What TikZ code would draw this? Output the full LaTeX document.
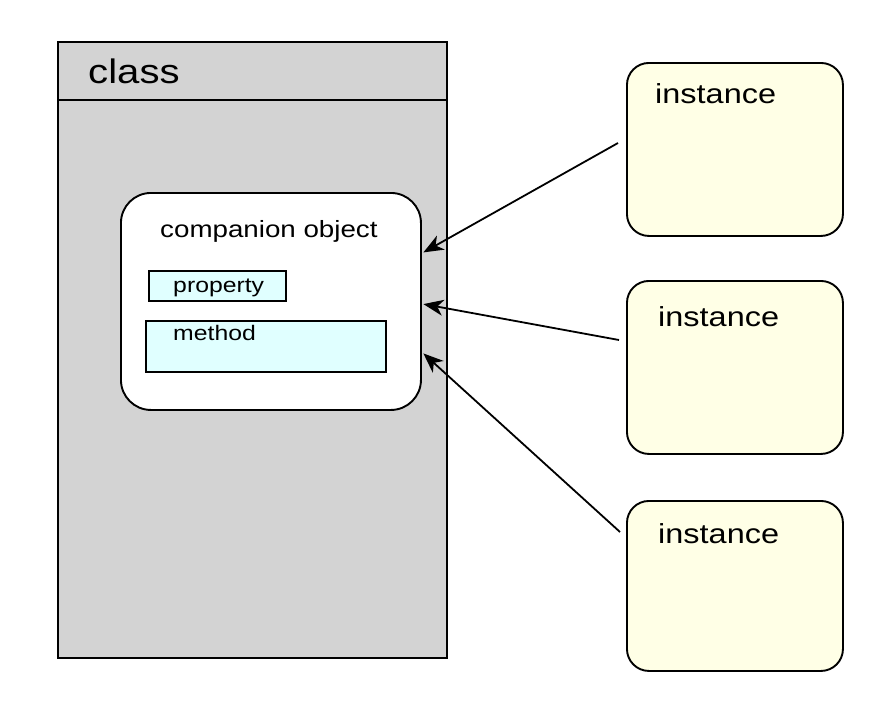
\documentclass[tikz,border=0pt]{standalone}
\usepackage{fontspec}
\setmainfont{Liberation Sans}
\usetikzlibrary{arrows.meta}
\definecolor{classgray}{RGB}{211,211,211}
\definecolor{membercyan}{RGB}{224,255,255}
\definecolor{instyellow}{RGB}{255,255,230}
\tikzset{
  box/.style={draw=black, line width=1.9pt, inner sep=0pt, anchor=north west},
  member/.style={box, fill=membercyan, line width=1.5pt},
  instbox/.style={box, fill=instyellow, rounded corners=22pt, minimum width=216pt},
  lbl/.style={anchor=base west, inner sep=0pt, xscale=1.18},
  ref/.style={-{Stealth[length=20pt,width=16pt,inset=6pt]}, line width=1.8pt},
}
\begin{document}
\begin{tikzpicture}[x=1pt, y=-1pt]
  \useasboundingbox (0,0) rectangle (880,707);
  % class with its companion object
  \node[box, fill=classgray, minimum width=389pt, minimum height=616pt] (cls) at (57,41) {};
  \draw[line width=1.9pt] ([yshift=-59pt]cls.north west) -- ([yshift=-59pt]cls.north east);
  \node[lbl, font=\fontsize{34}{40}\selectfont] (clsname) at (88,83) {class};
  \node[box, fill=white, rounded corners=30pt, minimum width=300pt, minimum height=217pt] (comp) at (120,192) {};
  \node[lbl, font=\fontsize{23.5}{28}\selectfont] (compname) at (160,237) {companion object};
  \node[member, minimum width=137pt, minimum height=30pt] (prop) at (148,270) {};
  \node[lbl, font=\fontsize{21}{25}\selectfont] (propname) at (173,292) {property};
  \node[member, minimum width=240pt, minimum height=51pt] (meth) at (145,320) {};
  \node[lbl, font=\fontsize{21}{25}\selectfont] (methname) at (173,340) {method};
  % instances
  \node[instbox, minimum height=173pt] (inst1) at (626,62) {};
  \node[instbox, minimum height=173pt] (inst2) at (626,280) {};
  \node[instbox, minimum height=170pt] (inst3) at (626,500) {};
  \node[lbl, font=\fontsize{27.5}{32}\selectfont] (inst1name) at (655,103) {instance};
  \node[lbl, font=\fontsize{27.5}{32}\selectfont] (inst2name) at (658,326) {instance};
  \node[lbl, font=\fontsize{27.5}{32}\selectfont] (inst3name) at (658,543) {instance};
  % references to the companion object
  \coordinate (from1) at (618,143);
  \coordinate (from2) at (619,340);
  \coordinate (from3) at (620,532);
  \draw[ref] (from1) -- ([xshift=1.5pt]comp.18);
  \draw[ref] (from2) -- ([xshift=1.5pt]comp.-1.7);
  \draw[ref] (from3) -- ([xshift=1.5pt]comp.-19.5);
\end{tikzpicture}
\end{document}
